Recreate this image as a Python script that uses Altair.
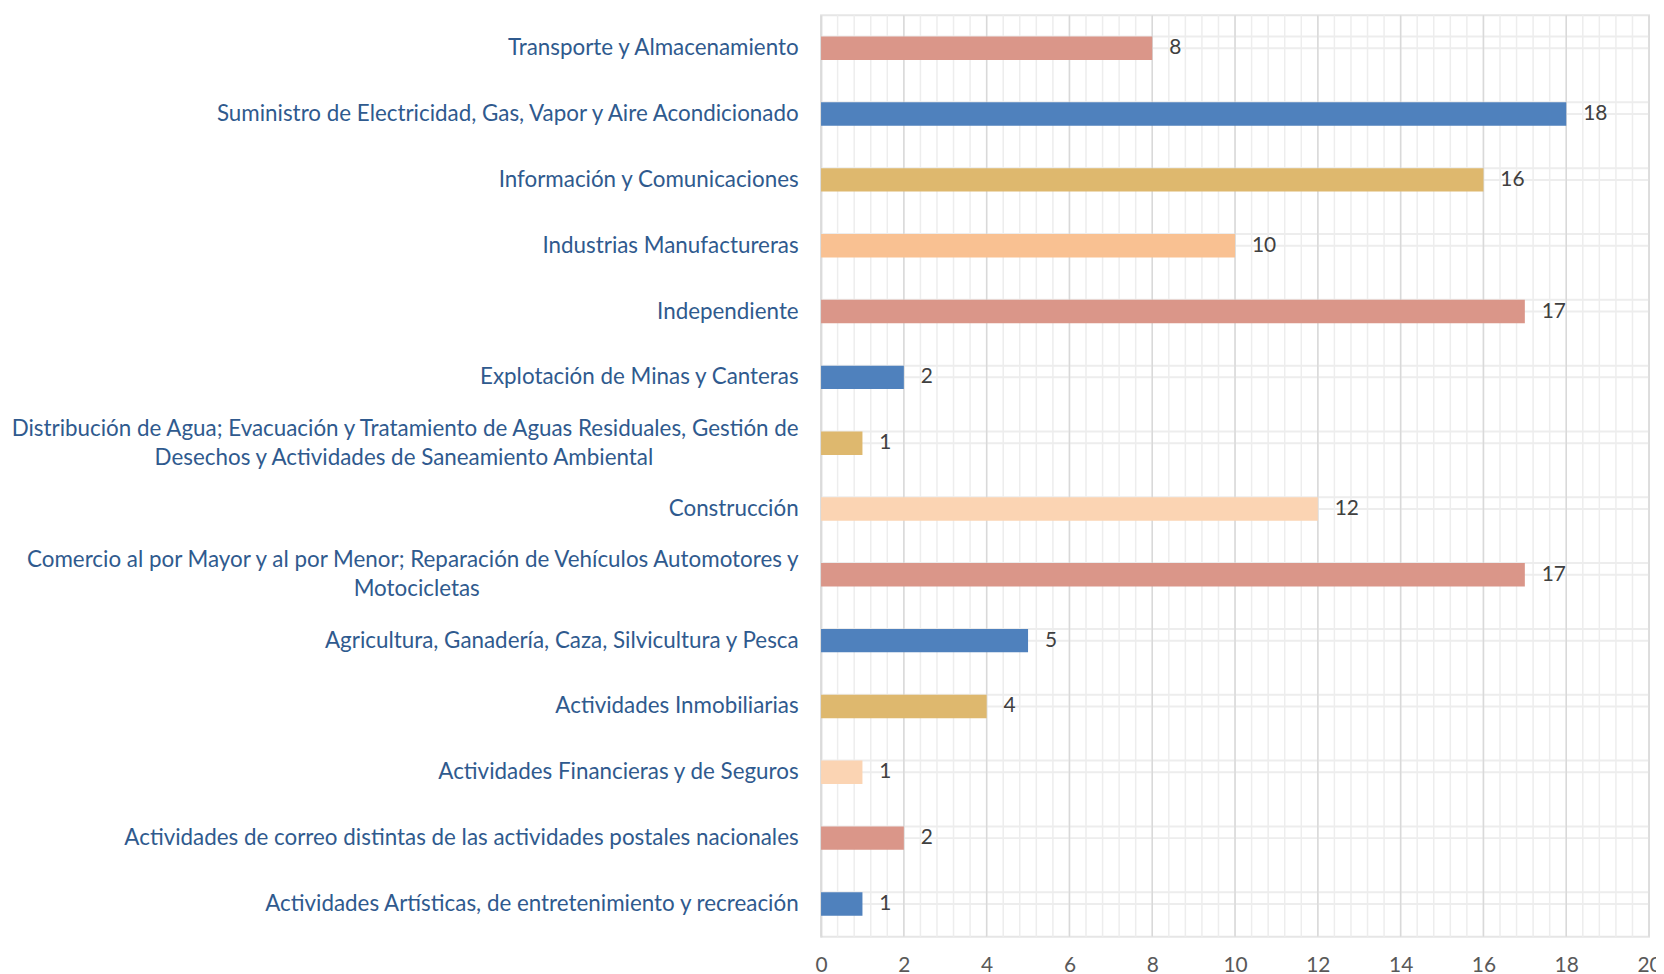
import altair as alt
import pandas as pd
import numpy as np

EM = "\u2003"
EN = "\u2002"
ZW = "\u200B"

categories = [
    "Transporte y Almacenamiento",
    "Suministro de Electricidad, Gas, Vapor y Aire Acondicionado",
    "Información y Comunicaciones",
    "Industrias Manufactureras",
    "Independiente",
    "Explotación de Minas y Canteras",
    "Distribución de Agua; Evacuación y Tratamiento de Aguas Residuales, Gestión de|Desechos y Actividades de Saneamiento Ambiental" + EM * 8 + EN + ZW,
    "Construcción",
    "Comercio al por Mayor y al por Menor; Reparación de Vehículos Automotores y|Motocicletas" + EM * 19 + ZW,
    "Agricultura, Ganadería, Caza, Silvicultura y Pesca",
    "Actividades Inmobiliarias",
    "Actividades Financieras y de Seguros",
    "Actividades de correo distintas de las actividades postales nacionales",
    "Actividades Artísticas, de entretenimiento y recreación",
]
values = [8, 18, 16, 10, 17, 2, 1, 12, 17, 5, 4, 1, 2, 1]
palette = ["#DA9689", "#4F81BD", "#DEB86E", "#F9C192", "#DA9689", "#4F81BD", "#DEB86E",
           "#FBD4B3", "#DA9689", "#4F81BD", "#DEB86E", "#FBD4B3", "#DA9689", "#4F81BD"]

x_ticks = list(range(0, 21, 2))
minor_ticks = [round(v, 1) for v in np.arange(0, 20.001, 0.4)]

df = pd.DataFrame({"cat": categories, "value": values})
grid_minor = pd.DataFrame({"g": minor_ticks})
grid_major = pd.DataFrame({"g": x_ticks})

FONT = "Lato"
xscale = alt.Scale(domain=[0, 20], nice=False, zero=True)
yscale = alt.Scale(domain=categories, paddingInner=0.644, paddingOuter=0.322)

xaxis = alt.Axis(values=x_ticks, grid=False, domain=False, ticks=False, title=None,
                 labelFlush=False, labelOverlap=False,
                 labelFont=FONT, labelFontSize=21, labelColor="#595959", labelPadding=18)
yaxis = alt.Axis(title=None, ticks=False, grid=False, domain=True, domainColor="#D0D0D0",
                 domainWidth=1.5, labelFont=FONT, labelFontSize=22.5, labelColor="#2F5A8E",
                 labelPadding=23, labelLimit=1000, labelLineHeight=29,
                 labelOffset={"condition": {"test": "indexof(datum.value, '|') >= 0", "value": -14.5},
                              "value": 0},
                 labelExpr="split(datum.label, '|')")

Y = alt.Y("cat:N", scale=yscale, axis=yaxis, sort=None)

hgrid_center = alt.Chart(df).mark_rule(color="#EDEDED", strokeWidth=2).encode(y=Y)
hgrid_edge = alt.Chart(df).mark_rule(color="#EDEDED", strokeWidth=2).encode(
    y=alt.Y("cat:N", scale=yscale, axis=yaxis, sort=None, bandPosition=0))

vminor = alt.Chart(grid_minor).mark_rule(color="#EDEDED", strokeWidth=1.5).encode(
    x=alt.X("g:Q", scale=xscale, axis=xaxis))
vmajor = alt.Chart(grid_major).mark_rule(color="#D9D9D9", strokeWidth=1.5).encode(
    x=alt.X("g:Q", scale=xscale, axis=xaxis))

bars = alt.Chart(df).mark_bar().encode(
    x=alt.X("value:Q", scale=xscale, axis=xaxis),
    y=Y,
    color=alt.Color("cat:N", scale=alt.Scale(domain=categories, range=palette), legend=None),
)
labels = alt.Chart(df).mark_text(align="left", baseline="middle", dx=17, font=FONT,
                                 fontSize=21, color="#404040").encode(
    x=alt.X("value:Q", scale=xscale, axis=xaxis),
    y=Y,
    text=alt.Text("value:Q"),
)

chart = alt.layer(hgrid_center, hgrid_edge, vminor, vmajor, bars, labels).properties(
    width=832, height=926,
    autosize=alt.AutoSizeParams(type="none"),
    padding={"left": 817, "top": 5, "right": 7, "bottom": 45},
    background="white",
).configure_view(stroke="#E6E6E6", strokeWidth=2)

chart.save("out.html", embed_options={"renderer": "svg", "actions": False})
